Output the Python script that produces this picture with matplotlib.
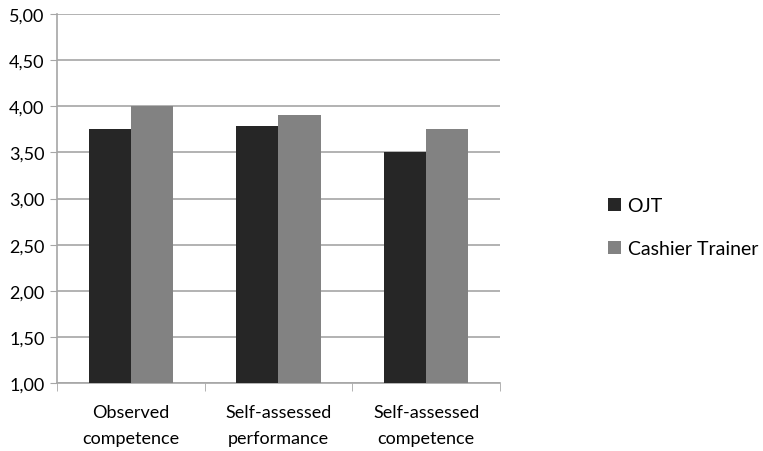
import matplotlib.pyplot as plt
import numpy as np

# data
categories = ["Observed\ncompetence", "Self-assessed\nperformance", "Self-assessed\ncompetence"]
ojt = [3.75, 3.79, 3.50]
cashier = [4.00, 3.91, 3.75]
series_names = ["OJT", "Cashier Trainer"]

plt.rcParams['font.family'] = ['Lato', 'DejaVu Sans']

fig = plt.figure(figsize=(7.63, 4.52), dpi=100)
ax = fig.add_axes([0.0747, 0.1504, 0.5806, 0.8164])

x = np.arange(len(categories))
w = 0.285
b1 = ax.bar(x - w / 2, np.array(ojt) - 1, w, bottom=1, color="#262626", zorder=3, label=series_names[0])
b2 = ax.bar(x + w / 2, np.array(cashier) - 1, w, bottom=1, color="#828282", zorder=3, label=series_names[1])

ax.set_xlim(-0.5, len(categories) - 0.5)
ax.set_ylim(1, 5)
yt = np.arange(1, 5.01, 0.5)
ax.set_yticks(yt)
ax.set_yticklabels([f"{v:.2f}".replace(".", ",") for v in yt], fontsize=13)
ax.yaxis.grid(True, color="#a6a6a6", linewidth=1.2, zorder=0)

# category labels centred, ticks at group boundaries
ax.set_xticks(x)
ax.set_xticklabels(categories, fontsize=13, linespacing=1.75)
ax.tick_params(axis="x", length=0, pad=15)
ax.set_xticks(np.arange(-0.5, len(categories)), minor=True)
ax.tick_params(axis="x", which="minor", length=6, color="#a6a6a6")
ax.tick_params(axis="y", length=5, color="#a6a6a6", pad=4)

for s in ["top", "right"]:
    ax.spines[s].set_visible(False)
for s in ["left", "bottom"]:
    ax.spines[s].set_color("#a6a6a6")
    ax.spines[s].set_linewidth(1.2)

fig.legend(handles=[b1, b2], loc="center left", bbox_to_anchor=(0.797, 0.495),
           frameon=False, fontsize=14, handlelength=0.65, handleheight=0.65,
           handletextpad=0.35, labelspacing=1.35, borderpad=0, borderaxespad=0)

fig.savefig("out.png", dpi=100)
